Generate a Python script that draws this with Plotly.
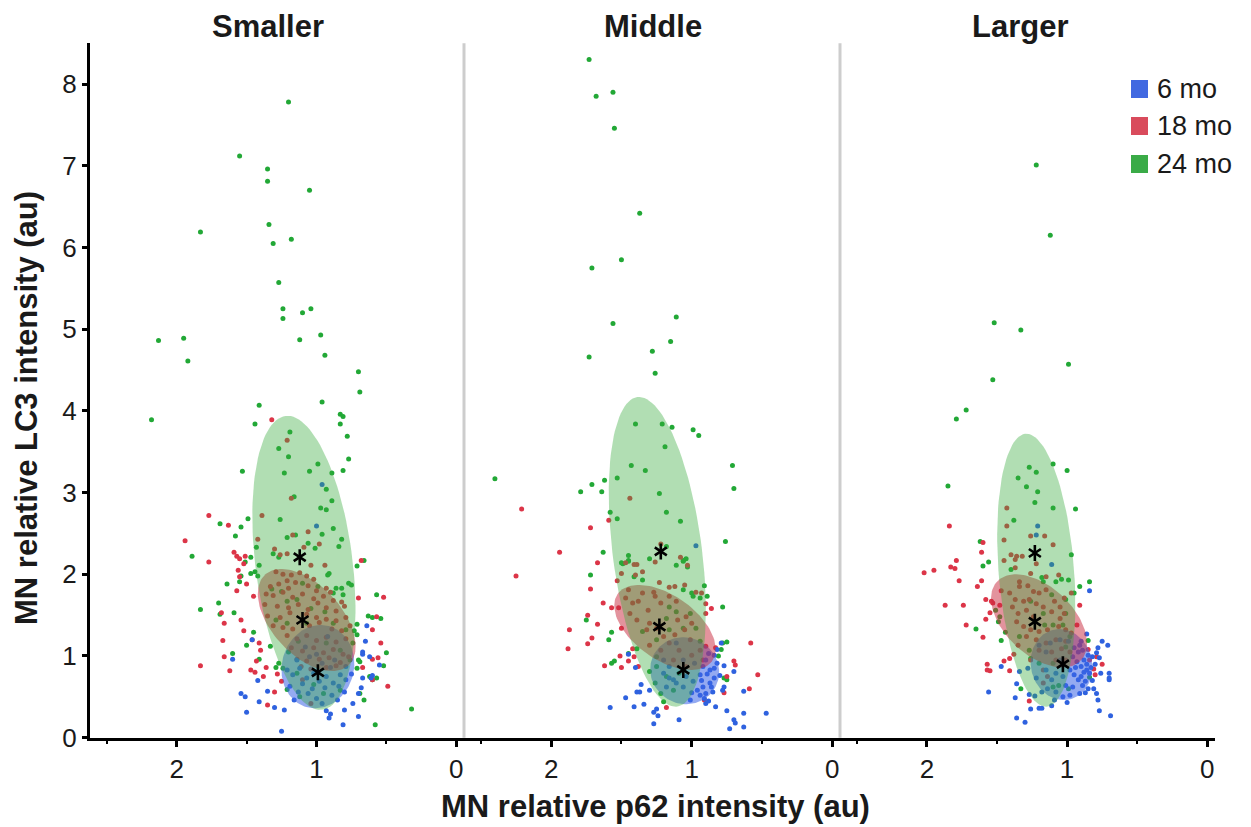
import numpy as np
import plotly.graph_objects as go

# the page body has an 8 px margin, so the figure is drawn 8 px in from the window corner
PAGE_W, PAGE_H = 1251, 827
OFF = 8
W, H = PAGE_W - OFF, PAGE_H - OFF

PANELS = ["Smaller", "Middle", "Larger"]
GROUPS = ["6 mo", "18 mo", "24 mo"]

# ---------------- data: (p62, LC3) pairs ----------------
SMALLER_24 = [(1.20,7.78),(1.55,7.12),(1.35,6.96),(1.35,6.81),(1.05,6.70),(1.83,6.19),(1.34,6.28),(1.18,6.10),(1.31,6.05),(1.27,5.57),(1.24,5.25),(1.24,5.13),(1.10,5.20),(1.04,5.25),(1.12,4.87),(0.97,4.93),(0.94,4.68),(2.13,4.86),(1.95,4.89),(1.92,4.61),(0.70,4.48),(0.69,4.23),(1.41,4.07),(0.96,4.11),(0.83,3.96),(0.81,3.93),(2.18,3.89),
(1.44,3.84),(0.83,3.84),(1.19,3.74),(0.78,3.69),(1.27,3.54),(1.20,3.44),(0.77,3.41),(0.99,3.35),(1.53,3.26),(1.23,3.24),(1.05,3.26),(0.89,3.24),(0.81,3.27),(0.93,3.04),(1.16,2.95),(0.89,2.90),(0.97,2.81),(0.93,2.79),(1.49,2.68),(1.26,2.67),(1.69,2.62),(1.54,2.58),(0.88,2.56),(1.58,2.47),(1.21,2.45),(1.15,2.48),(0.96,2.49),(0.82,2.43),(1.06,2.38),(0.84,2.34),(1.43,2.33),(1.01,2.32),(1.89,2.22),(1.31,2.25),(1.27,2.21),(1.47,2.21),(1.51,2.15),(1.41,2.11),(0.71,2.10),(0.66,2.17),
(1.47,2.01),(1.44,2.03),(1.54,1.98),(1.55,1.91),(1.64,1.88),(1.42,1.98),(0.91,2.01),(0.92,1.99),(0.77,1.89),(0.75,1.87),(0.86,1.83),(0.82,1.83),(0.57,1.75),(1.70,1.65),(1.83,1.57),(1.69,1.51),(1.59,1.53),(1.45,1.29),(1.33,1.12),(1.50,1.13),(1.60,1.03),(1.41,0.96),(1.29,0.86),(1.27,0.91),(1.21,0.59),(0.63,1.49),(0.60,1.47),(0.54,1.46),(0.71,1.39),(0.73,1.31),(0.71,1.26),(0.50,1.04),(0.70,0.95),(0.69,0.93),(0.52,0.88),(0.71,0.85),(0.62,0.75),(0.60,0.71),(0.57,0.73),(0.69,0.54),(0.66,0.46),(0.58,0.16),(0.32,0.35),
(1.32,1.82),(1.25,1.79),(1.10,1.89),(0.99,1.85),(1.29,1.44),(1.21,1.67),(1.14,1.69),(1.04,1.58),(0.94,1.54),(0.88,1.77),(0.81,1.75),(1.21,1.40),(1.07,1.40),(0.88,1.40),(0.79,1.32),(1.20,1.05),(1.13,1.18),(0.93,1.16),(0.83,1.07),(1.24,0.85),(1.14,0.79),(1.02,0.65),(0.95,0.54),(0.83,0.58),(1.12,0.50),(0.76,0.95),(0.74,1.16)]

SMALLER_18 = [(1.21,3.64),(1.18,2.93),(1.39,2.72),(1.42,2.43),(1.17,2.48),(1.06,2.52),(1.30,2.31),(1.09,2.33),(0.98,2.37),(1.26,2.24),(1.21,2.25),(1.04,2.11),(0.94,2.11),
(1.32,3.89),(1.77,2.72),(1.63,2.60),(1.94,2.41),(1.77,2.15),(1.59,2.27),(1.57,2.22),(1.55,2.19),(1.51,2.22),(1.52,2.13),(0.68,2.17),
(1.56,2.05),(1.55,1.97),(1.50,1.88),(1.57,1.80),(1.45,1.73),(1.68,1.53),(1.66,1.40),(1.54,1.44),(1.52,1.31),(1.67,1.19),(1.46,1.20),(1.41,1.16),(1.40,1.07),(1.66,0.99),(1.83,0.88),(1.62,0.82),(1.47,0.83),(1.44,0.80),(1.36,0.86),(1.38,0.75),(1.28,0.78),(1.25,0.69),(1.30,0.56),(1.35,0.40),(1.43,0.94),(0.70,1.71),(0.52,1.72),(0.57,1.48),(0.60,1.32),(0.54,1.16),(0.56,0.98),(0.60,0.96),(0.67,0.86),(0.60,0.71),(0.49,0.63),
(1.29,2.03),(1.24,2.00),(1.18,1.99),(1.12,2.02),(1.07,1.98),(1.02,1.94),(1.21,1.92),(1.15,1.90),(1.33,1.85),(1.27,1.88),(1.20,1.83),(1.06,1.86),(1.00,1.80),(0.93,1.83),(0.90,1.78),(1.36,1.76),(1.31,1.74),(1.24,1.78),(1.17,1.72),(1.10,1.76),(1.02,1.70),(0.95,1.73),(0.88,1.68),(0.82,1.66),(1.37,1.63),(1.28,1.61),(1.20,1.59),(1.13,1.63),(1.06,1.57),(0.99,1.65),(0.93,1.59),(0.86,1.55),(0.80,1.61),(1.35,1.49),(1.26,1.47),(1.19,1.53),(1.07,1.51),(1.00,1.47),(0.93,1.45),(0.86,1.43),(0.79,1.47),(1.31,1.37),(1.24,1.35),(1.17,1.33),(1.05,1.37),(0.98,1.41),(0.89,1.33),(0.82,1.31),(0.76,1.37),(1.21,1.25),(1.14,1.21),(1.07,1.25),(1.00,1.19),(0.93,1.23),(0.86,1.17),(0.79,1.21),(1.18,1.10),(1.10,1.06),(1.02,1.10),(0.95,1.04),(0.88,1.08),(0.81,1.02),(1.14,0.96),(1.07,0.94),(0.98,0.96),(0.91,0.98),(0.83,0.92),(0.77,0.99),(1.11,0.87),(1.04,0.84),(0.93,0.86),(0.86,0.88),(1.04,0.42),(1.10,0.71)]

SMALLER_6 = [(0.96,3.10),(1.00,2.59),(1.46,1.20),(1.60,0.96),(1.42,0.70),(1.54,0.54),(1.51,0.50),(1.50,0.31),(1.41,0.44),(1.35,0.57),(1.30,0.37),(1.23,0.34),(1.25,0.08),(0.93,0.33),(0.90,0.29),(0.91,0.24),(0.81,0.16),(0.80,0.34),(0.74,0.42),(0.70,0.26),(0.68,0.61),(0.70,0.54),(0.67,0.73),(0.61,0.73),(0.60,0.76),(0.55,0.89),(0.62,0.99),(0.67,1.05),(0.67,1.02),(0.65,1.18),(0.64,1.37),
(1.21,0.83),(1.17,0.77),(1.12,0.85),(1.07,0.73),(1.02,0.79),(0.98,0.69),(0.93,0.75),(0.88,0.67),(0.83,0.77),(0.79,0.71),(1.19,0.63),(1.13,0.56),(1.06,0.54),(1.00,0.48),(0.94,0.61),(0.89,0.52),(0.85,0.46),(0.80,0.56),(1.14,0.95),(1.05,0.99),(0.96,0.91),(0.87,0.95),(0.79,0.87),(1.08,1.11),(0.92,1.24),(1.10,0.66),(1.03,0.60),(0.96,0.42),(0.90,0.86),(1.16,0.46),(0.84,0.63),(1.00,1.02),(0.75,0.78)]

MIDDLE_24 = [(1.73,8.30),(1.68,7.85),(1.56,7.90),(1.55,7.46),(1.37,6.42),(1.71,5.75),(1.50,5.85),(1.56,5.07),(1.11,5.15),(1.73,4.66),(1.15,4.85),(1.28,4.73),(1.26,4.46),
(1.40,3.84),(1.21,3.84),(1.14,3.80),(0.99,3.77),(0.95,3.70),(1.19,3.56),(0.71,3.33),(0.70,3.05),(2.40,3.17),(1.43,3.33),(1.33,3.27),(1.71,3.10),(1.62,3.15),(1.53,3.18),(1.79,3.01),(1.64,3.01),(1.23,2.99),(1.58,2.76),(1.53,2.68),(1.18,2.76),(1.08,2.65),(0.76,2.40),(1.63,2.27),(1.45,2.23),(1.45,2.17),(1.50,2.14),(1.30,2.19),(1.18,2.34),(1.11,2.11),(1.06,2.17),(1.04,2.19),
(1.72,1.99),(1.75,1.44),(1.57,1.29),(1.59,1.20),(1.55,0.94),(1.57,0.91),(1.45,1.03),(1.30,0.81),(1.26,0.67),(1.22,0.54),(0.91,1.86),(0.89,1.73),(0.78,1.60),(0.75,1.17),(0.78,1.16),(0.79,1.08),(0.81,1.00),(0.77,0.73),(0.75,0.71),
(1.49,2.13),(1.45,2.16),(1.41,1.97),(1.35,1.93),(1.06,2.16),(1.03,2.09),(1.00,1.77),(0.99,1.73),(0.94,1.71),(1.06,1.81),(1.16,1.60),(1.11,1.54),(1.18,1.46),(1.06,1.34),(1.01,1.52),(1.25,1.20),(1.35,1.30),(1.39,1.09),(1.25,0.99),(1.16,1.32),(0.97,1.34),(0.94,1.18),(1.25,0.87),(1.18,0.75),(1.09,0.79),(1.13,0.58),(1.20,0.44)]

MIDDLE_18 = [(2.21,2.80),(1.72,2.57),(1.59,2.66),(1.94,2.27),(1.67,2.14),(1.44,2.93),(1.22,2.37),(1.26,2.15),(1.41,2.12),(1.08,2.21),(1.03,2.11),
(2.25,1.98),(1.72,1.82),(1.53,1.92),(1.63,1.65),(1.57,1.59),(1.52,1.59),(1.74,1.50),(1.67,1.39),(1.87,1.32),(1.71,1.22),(1.74,1.15),(1.88,1.09),(1.50,1.34),(1.42,1.09),(1.51,1.00),(1.45,0.94),(1.41,0.99),(1.62,0.88),(1.50,0.86),(1.38,0.87),(1.18,0.37),(0.90,1.64),(0.90,1.52),(0.86,1.58),(0.58,1.16),(0.83,1.10),(0.70,0.94),(0.69,0.89),(0.75,0.75),(0.53,0.77),(0.59,0.60),(0.77,0.55),(0.91,0.46),(0.90,1.12),
(1.50,2.01),(1.40,1.99),(1.35,2.03),(1.47,2.14),(1.39,2.12),(1.23,1.90),(1.16,1.84),(1.12,1.85),(1.05,1.87),(0.97,1.78),(0.93,1.77),(1.47,1.71),(1.42,1.65),(1.38,1.67),(1.44,1.52),(1.39,1.44),(1.31,1.56),(1.26,1.73),(1.22,1.65),(1.30,1.40),(1.16,1.73),(1.11,1.67),(1.10,1.44),(1.04,1.48),(1.00,1.40),(1.32,1.32),(1.25,1.34),(1.20,1.24),(1.12,1.26),(1.05,1.32),(1.01,1.20),(1.30,1.13),(1.22,1.07),(1.16,1.16),(1.09,1.07),(1.00,1.01),(0.94,1.07),(0.92,0.95),(1.13,0.95),(1.04,0.87),(1.27,1.78),(1.35,1.77),(1.45,1.81)]

MIDDLE_6 = [(0.97,2.35),(1.47,0.49),(1.58,0.37),(1.41,0.38),(1.34,0.41),(1.27,0.31),(1.24,0.27),(1.27,0.17),(1.25,0.35),(1.09,0.22),(1.39,0.56),(1.37,0.56),(1.36,0.65),(1.30,0.58),(1.40,0.86),(1.45,1.02),(0.90,0.42),(0.88,0.45),(0.83,0.38),(0.75,0.33),(0.70,0.22),(0.69,0.18),(0.73,0.11),(0.63,0.30),(0.63,0.13),(0.47,0.30),(0.63,0.57),(0.70,0.81),(0.77,0.88),(0.77,0.62),(0.78,0.58),(0.79,1.16),(0.82,1.08),(0.84,1.01),
(1.20,0.79),(1.16,0.73),(1.11,0.67),(1.06,0.62),(1.18,0.62),(1.13,0.71),(1.04,0.75),(0.99,0.69),(0.94,0.77),(0.92,0.62),(0.87,0.67),(0.84,0.73),(0.92,0.87),(0.87,0.83),(0.82,0.91),(0.90,0.54),(0.94,0.52),(1.01,0.46),(0.85,0.56),(1.16,0.87),(1.06,0.95),(0.98,0.91),(0.90,0.95),(0.88,1.03),(1.11,1.16),(1.20,0.95),
(0.93,0.70),(0.89,0.78),(0.86,0.62),(0.96,0.58),(0.91,0.48),(0.84,0.85),(1.00,0.55),(0.80,0.76)]

LARGER_24 = [(1.22,7.01),(1.12,6.15),(1.52,5.08),(1.33,4.99),(0.99,4.57),(1.53,4.38),(1.72,4.01),(1.79,3.90),
(1.85,3.08),(1.27,3.31),(1.22,3.25),(1.10,3.35),(1.00,3.27),(1.35,3.18),(1.29,3.07),(1.21,3.01),(1.23,2.88),(1.10,2.81),(0.94,2.80),(1.38,2.66),(0.97,2.24),(1.62,2.40),(1.56,2.15),(1.60,2.10),(1.40,2.06),
(1.65,1.33),(1.47,1.19),(1.49,1.42),(1.48,1.48),(1.51,1.56),(1.44,1.29),(1.33,0.60),(0.84,1.91),(0.91,1.85),(1.01,1.69),(0.95,1.77),(0.85,1.19),(0.84,0.74),
(1.18,1.96),(1.17,1.91),(1.08,1.91),(1.04,1.94),(0.99,1.93),(1.26,1.67),(1.11,1.75),(1.16,1.38),(1.10,1.38),(1.03,1.38),(1.01,1.52),(1.17,1.52),(1.34,1.24),(1.27,1.07),(1.20,0.91),(1.10,0.62),(1.06,0.64),(0.99,0.60),(1.26,0.97),(1.10,0.91),(0.98,1.24),(1.01,1.11)]

LARGER_18 = [(1.84,2.59),(1.60,2.39),(1.61,2.27),(1.79,2.17),(1.83,2.09),(1.80,2.07),(1.95,2.05),
(1.43,2.81),(1.43,2.59),(1.45,2.42),(1.26,2.47),(1.16,2.47),(1.10,2.36),(1.40,2.24),(1.36,2.22),(1.32,2.22),(1.37,2.18),(1.45,2.17),(1.22,2.13),(1.37,2.08),
(2.02,2.02),(1.77,1.92),(1.61,1.92),(1.64,1.85),(1.87,1.62),(1.74,1.62),(1.72,1.38),(1.60,1.23),(1.58,1.45),(1.55,1.53),(1.58,1.69),(1.54,1.67),(1.53,1.65),(1.48,1.62),(1.47,1.80),(1.57,0.90),(1.57,0.83),(1.55,0.82),(1.45,0.94),(1.41,0.97),(1.38,1.02),(1.41,0.82),(1.27,0.45),(0.91,1.62),(0.93,1.38),(0.85,1.08),(0.81,0.84),(0.80,0.77),(0.75,0.90),(0.79,0.99),(0.84,0.95),
(1.26,2.01),(1.15,1.97),(1.06,1.99),(1.34,1.91),(1.34,1.85),(1.28,1.86),(1.24,1.79),(1.20,1.77),(1.15,1.81),(1.41,1.77),(1.37,1.69),(1.31,1.67),(1.27,1.69),(1.22,1.64),(1.09,1.67),(1.05,1.60),(1.02,1.71),(0.97,1.77),(1.39,1.60),(1.35,1.52),(1.29,1.56),(1.24,1.48),(1.17,1.60),(1.11,1.54),(1.05,1.46),(1.02,1.52),(1.36,1.42),(1.31,1.36),(1.26,1.32),(1.20,1.30),(1.14,1.32),(1.06,1.36),(1.01,1.32),(0.97,1.28),(1.29,1.24),(1.22,1.20),(1.15,1.16),(1.08,1.20),(1.01,1.18),(1.35,1.13),(1.20,1.07),(1.11,1.05),(1.04,1.09),(0.98,1.05),(1.26,0.95),(1.17,0.83),(1.08,0.95),(1.01,0.95),(1.14,0.75),(1.17,0.67)]

LARGER_6 = [(1.21,2.59),(1.22,2.48),(1.11,2.12),(0.84,1.80),(0.86,1.27),(0.75,1.18),(0.71,1.13),(0.79,1.04),(0.77,0.98),(0.82,0.99),(0.70,0.79),(0.70,0.71),(0.70,0.73),(0.76,0.79),(0.81,0.60),(0.79,0.54),(0.78,0.46),(0.77,0.33),(0.69,0.27),(1.00,0.43),(1.09,0.46),(1.11,0.39),(1.18,0.36),(1.20,0.36),(1.26,0.35),(1.23,0.51),(1.27,0.53),(1.37,0.49),(1.36,0.66),(1.47,0.87),(1.56,0.56),(1.36,0.24),(1.30,0.19),(1.34,0.81),(1.28,0.85),
(1.20,1.13),(1.12,1.16),(1.05,1.20),(0.99,1.18),(0.91,1.13),(0.89,1.07),(0.85,1.01),(0.96,0.99),(0.93,0.93),(0.90,0.87),(0.86,0.83),(0.98,0.83),(0.95,0.77),(0.90,0.75),(0.87,0.69),(0.84,0.79),(1.03,0.75),(1.01,0.64),(0.96,0.62),(1.08,0.56),(1.03,0.50),(0.98,0.52),(0.91,0.54),(1.15,0.83),(1.11,0.71),(1.18,0.56),(1.14,0.60),(1.22,0.73),(1.08,0.79),(1.05,0.95),(1.15,1.05),
(0.92,1.05),(0.88,0.95),(0.86,0.90),(0.83,0.86),(0.88,0.80),(0.92,0.71),(0.89,0.64),(0.85,0.60),(0.94,0.86),(0.82,0.70),(0.80,0.90),(0.78,1.10),(0.90,1.18),(0.95,1.10),(0.87,0.55)]

# group means (asterisks)
SMALLER_MEANS = {"6 mo": (0.99, 0.80), "18 mo": (1.10, 1.44), "24 mo": (1.12, 2.21)}
MIDDLE_MEANS = {"6 mo": (1.06, 0.83), "18 mo": (1.23, 1.36), "24 mo": (1.22, 2.28)}
LARGER_MEANS = {"6 mo": (1.03, 0.90), "18 mo": (1.23, 1.42), "24 mo": (1.23, 2.26)}

# ellipses: centre x, centre y, half width at centre, x-offset of top, y-offset of top
SMALLER_ELLIPSES = {"24 mo": (1.09, 2.14, 0.35, 0.117, 1.80), "18 mo": (1.07, 1.44, 0.30, 0.18, 0.625), "6 mo": (0.99, 0.87, 0.26, -0.02, 0.51)}
MIDDLE_ELLIPSES = {"24 mo": (1.245, 2.275, 0.32, 0.13, 1.895), "18 mo": (1.19, 1.35, 0.31, 0.185, 0.52), "6 mo": (1.05, 0.82, 0.245, 0.01, 0.41)}
LARGER_ELLIPSES = {"24 mo": (1.22, 2.05, 0.27, 0.07, 1.67), "18 mo": (1.20, 1.43, 0.30, 0.165, 0.57), "6 mo": (1.04, 0.895, 0.22, 0.015, 0.435)}

X_TICKS = [0, 1, 2]
X_MINOR = [0.5, 1.5, 2.5]
Y_TICKS = [0, 1, 2, 3, 4, 5, 6, 7, 8]

POINTS = {
    "Smaller": {"6 mo": SMALLER_6, "18 mo": SMALLER_18, "24 mo": SMALLER_24},
    "Middle": {"6 mo": MIDDLE_6, "18 mo": MIDDLE_18, "24 mo": MIDDLE_24},
    "Larger": {"6 mo": LARGER_6, "18 mo": LARGER_18, "24 mo": LARGER_24},
}
MEANS = {"Smaller": SMALLER_MEANS, "Middle": MIDDLE_MEANS, "Larger": LARGER_MEANS}
ELLIPSES = {"Smaller": SMALLER_ELLIPSES, "Middle": MIDDLE_ELLIPSES, "Larger": LARGER_ELLIPSES}

# ---------------- styles ----------------
POINT_COLOR = {"6 mo": "#2f62df", "18 mo": "#dc3548", "24 mo": "#22a836"}
FILL_COLOR = {"6 mo": "rgba(60,100,230,0.55)", "18 mo": "rgba(200,40,60,0.5)", "24 mo": "rgba(55,170,60,0.39)"}
LEGEND_COLOR = {"6 mo": "#4169e1", "18 mo": "#d94b5c", "24 mo": "#3aab47"}
FONT = "Liberation Sans, Arial, Helvetica, sans-serif"

# panel geometry (window pixels)
PANEL_EDGES = [90, 464, 840, 1215]
PLOT_TOP, PLOT_BOTTOM = 43.2, 737.7


def fx(p):
    return (p - OFF) / W


def fy(p):
    return 1 - (p - OFF) / H


fig = go.Figure()
t = np.linspace(0, 2 * np.pi, 120)

for i, panel in enumerate(PANELS):
    xa = "x" if i == 0 else f"x{i+1}"
    ya = "y" if i == 0 else f"y{i+1}"
    # points
    for g in ["24 mo", "18 mo", "6 mo"]:
        pts = POINTS[panel][g]
        fig.add_trace(go.Scatter(
            x=[p[0] for p in pts], y=[p[1] for p in pts], mode="markers",
            marker=dict(size=5, color=POINT_COLOR[g], line=dict(width=0)),
            xaxis=xa, yaxis=ya, showlegend=False, hoverinfo="skip"))
    # ellipses on top of points (6 mo first, 24 mo last)
    for g in ["6 mo", "18 mo", "24 mo"]:
        cx, cy, a, bx, by = ELLIPSES[panel][g]
        ex = cx + a * np.cos(t) + bx * np.sin(t)
        ey = cy + by * np.sin(t)
        fig.add_trace(go.Scatter(
            x=ex, y=ey, mode="lines", fill="toself", fillcolor=FILL_COLOR[g],
            line=dict(width=0, color="rgba(0,0,0,0)"),
            xaxis=xa, yaxis=ya, showlegend=False, hoverinfo="skip"))
    # means as asterisks
    mx = [MEANS[panel][g][0] for g in GROUPS]
    my = [MEANS[panel][g][1] for g in GROUPS]
    for sym in ["y-up-open", "y-down-open"]:
        fig.add_trace(go.Scatter(
            x=mx, y=my, mode="markers",
            marker=dict(symbol=sym, size=10, color="black", line=dict(width=2.6, color="black")),
            xaxis=xa, yaxis=ya, showlegend=False, hoverinfo="skip"))

layout = dict(
    width=W, height=H, autosize=False,
    margin=dict(l=0, r=0, t=0, b=0, pad=0),
    paper_bgcolor="white", plot_bgcolor="white",
    font=dict(family=FONT, color="#1a1a1a"),
    showlegend=False,
)

ydom = [fy(PLOT_BOTTOM), fy(PLOT_TOP)]
for i in range(3):
    sx = "" if i == 0 else str(i + 1)
    layout[f"xaxis{sx}"] = dict(
        domain=[fx(PANEL_EDGES[i]), fx(PANEL_EDGES[i + 1])],
        range=[2.62, -0.055], anchor=f"y{sx}", automargin=False,
        tickvals=X_TICKS, ticktext=[str(v) for v in X_TICKS],
        ticks="outside", ticklen=6, tickwidth=2.5, tickcolor="black",
        minor=dict(tickvals=X_MINOR, ticks="outside", ticklen=3, tickwidth=2, tickcolor="black"),
        showline=True, linewidth=3, linecolor="black",
        showgrid=False, zeroline=False,
        tickfont=dict(size=26, family=FONT, color="#1a1a1a"),
    )
    if i == 0:
        layout["yaxis"] = dict(
            domain=ydom, range=[0, 8.5], anchor="x", automargin=False,
            tickvals=Y_TICKS, ticks="outside", ticklen=5, tickwidth=2.5, tickcolor="black",
            showline=True, linewidth=3, linecolor="black",
            showgrid=False, zeroline=False,
            tickfont=dict(size=26, family=FONT, color="#1a1a1a"),
        )
    else:
        layout[f"yaxis{sx}"] = dict(
            domain=ydom, range=[0, 8.5], anchor=f"x{sx}", visible=False, automargin=False,
            showgrid=False, zeroline=False,
        )

shapes = []
for xe in PANEL_EDGES[1:3]:
    shapes.append(dict(type="line", xref="paper", yref="paper",
                       x0=fx(xe), x1=fx(xe), y0=fy(PLOT_BOTTOM), y1=fy(PLOT_TOP),
                       line=dict(color="#cdcdcd", width=3), layer="below"))

annotations = []
title_x = [268, 653, 1020]
for i, panel in enumerate(PANELS):
    annotations.append(dict(text=f"<b>{panel}</b>", xref="paper", yref="paper",
                            x=fx(title_x[i]), y=fy(26), xanchor="center", yanchor="middle",
                            showarrow=False, font=dict(size=31, family=FONT, color="#1a1a1a")))
annotations.append(dict(text="<b>MN relative p62 intensity (au)</b>", xref="paper", yref="paper",
                        x=fx(655), y=fy(806), xanchor="center", yanchor="middle",
                        showarrow=False, font=dict(size=31, family=FONT, color="#1a1a1a")))
annotations.append(dict(text="<b>MN relative LC3 intensity (au)</b>", xref="paper", yref="paper",
                        x=fx(26), y=fy(408), xanchor="center", yanchor="middle", textangle=-90,
                        showarrow=False, font=dict(size=31, family=FONT, color="#1a1a1a")))

# legend
legend_rows = [89, 126, 164]
for g, yc in zip(GROUPS, legend_rows):
    shapes.append(dict(type="rect", xref="paper", yref="paper",
                       x0=fx(1131), x1=fx(1148), y0=fy(yc + 9), y1=fy(yc - 9),
                       fillcolor=LEGEND_COLOR[g], line=dict(width=0)))
    annotations.append(dict(text=g, xref="paper", yref="paper", x=fx(1155), y=fy(yc),
                            xanchor="left", yanchor="middle", showarrow=False,
                            font=dict(size=27, family=FONT, color="#1a1a1a")))

layout["shapes"] = shapes
layout["annotations"] = annotations
fig.update_layout(**layout)
fig.write_html("out.html")
